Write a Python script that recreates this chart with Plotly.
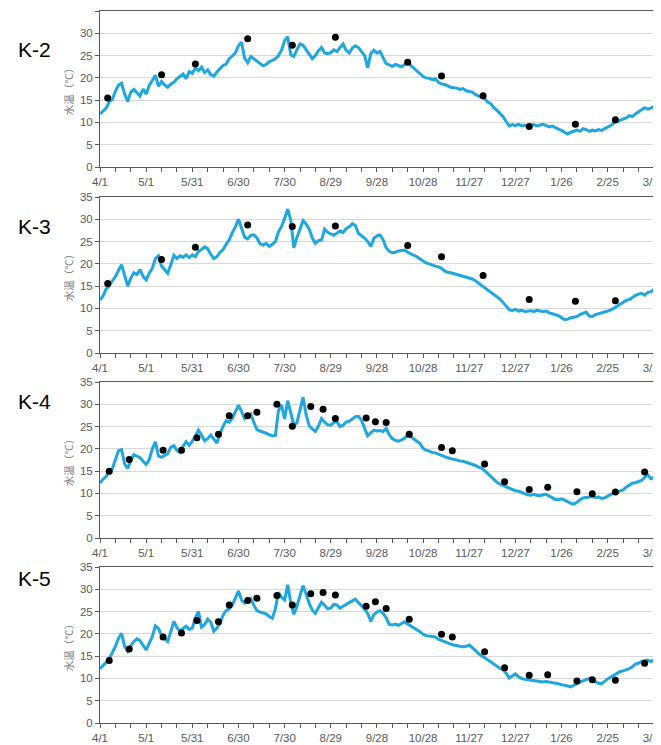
import plotly.graph_objects as go

# ---------------- data ----------------
station_names = ["K-2", "K-3", "K-4", "K-5"]
tick_days = [0, 30, 60, 90, 120, 150, 180, 210, 240, 270, 300, 330, 360]
tick_labels = ["4/1", "5/1", "5/31", "6/30", "7/30", "8/29", "9/28",
               "10/28", "11/27", "12/27", "1/26", "2/25", "3/27"]
line_step_days = 2  # continuous record, read every 2 days from 4/1

k2_line = [
    11.9, 12.6, 13.2, 14.6, 15.2, 17.0, 18.4, 18.8, 16.4, 14.7,
    16.8, 17.4, 16.6, 15.9, 17.5, 16.4, 18.3, 19.4, 20.6, 18.1,
    19.2, 18.4, 17.9, 18.6, 19.0, 19.8, 20.4, 20.9, 19.8, 21.4,
    21.0, 22.2, 21.6, 22.4, 21.2, 21.8, 20.7, 20.4, 21.3, 22.1,
    22.8, 23.1, 24.3, 24.9, 25.6, 27.2, 28.0, 24.4, 23.4, 24.8,
    24.3, 23.6, 23.1, 22.7, 23.0, 23.6, 23.9, 24.3, 25.0, 26.2,
    28.4, 29.2, 25.2, 24.8, 26.3, 27.6, 27.3, 26.2, 25.4, 24.3,
    25.0, 26.1, 26.8, 25.6, 25.4, 25.7, 26.3, 25.9, 26.8, 27.6,
    26.2, 25.6, 26.7, 27.2, 26.8, 25.9, 25.0, 22.3, 25.4, 26.2,
    25.6, 25.9, 24.6, 23.2, 22.9, 22.6, 23.0, 22.7, 22.5, 23.0,
    23.4, 22.8, 22.2, 21.6, 20.9, 20.3, 20.0, 19.9, 19.6, 19.8,
    19.0, 18.6, 18.5, 18.2, 17.9, 17.8, 17.7, 17.4, 17.6, 17.1,
    16.9, 16.8, 16.3, 15.9, 15.6, 15.3, 14.6, 14.2, 13.3, 12.7,
    12.1, 11.3, 10.2, 9.2, 9.5, 9.3, 9.6, 9.2, 9.4, 9.1,
    9.3, 9.5, 9.2, 9.4, 9.6, 9.3, 9.0, 9.2, 8.8, 8.5,
    8.2, 7.8, 7.4, 7.8, 8.1, 8.3, 8.0, 8.6, 8.4, 8.0,
    8.3, 8.1, 8.4, 8.2, 8.6, 8.9, 9.3, 9.9, 10.2, 10.5,
    10.8, 11.0, 11.5, 11.3, 11.9, 12.4, 12.8, 13.3, 13.0, 13.2,
    13.6, 14.1, 14.5,
]
k3_line = [
    11.9, 12.8, 14.4, 15.0, 16.2, 17.1, 18.5, 19.8, 17.4, 15.0,
    16.8, 18.0, 17.6, 18.7, 17.2, 16.4, 17.9, 19.0, 21.2, 21.8,
    19.5, 18.6, 17.9, 19.8, 21.9, 21.2, 21.8, 21.5, 22.0, 21.4,
    22.0, 21.6, 22.8, 23.2, 23.8, 23.4, 22.1, 21.2, 21.6, 22.6,
    23.2, 24.4, 25.4, 27.0, 28.3, 30.0, 28.1, 26.0, 25.6, 26.4,
    26.5, 25.8, 24.5, 24.2, 24.6, 23.9, 24.4, 25.0, 27.2, 28.4,
    30.2, 32.3, 29.8, 23.6, 25.9, 27.8, 29.7, 28.9, 27.8, 25.8,
    24.6, 25.2, 25.4, 27.8, 27.1, 26.7, 26.4, 26.9, 27.4, 27.0,
    27.9, 28.3, 29.0, 28.6, 26.8, 26.3, 25.8, 25.0, 23.9, 25.7,
    26.3, 26.5, 25.4, 23.6, 22.8, 22.5, 22.6, 22.9, 23.0, 23.1,
    22.6, 22.3, 22.0, 21.6, 21.1, 20.7, 20.2, 20.0, 19.7, 19.5,
    19.3, 19.0, 18.4, 18.1, 18.0, 17.8, 17.7, 17.5, 17.3, 17.0,
    16.9, 16.6, 16.2, 15.7, 15.3, 14.8, 14.3, 13.7, 13.3, 12.7,
    12.1, 11.3, 10.4, 9.7, 9.5, 9.8, 9.4, 9.6, 9.3, 9.4,
    9.5, 9.3, 9.6, 9.4, 9.3, 9.4, 9.0, 8.8, 8.6, 8.4,
    7.9, 7.5, 7.6, 7.9, 8.0, 8.2, 8.6, 8.9, 9.2, 8.3,
    8.2, 8.6, 8.8, 8.9, 9.1, 9.4, 9.7, 10.0, 10.5, 10.9,
    11.4, 11.8, 12.0, 12.5, 12.9, 13.2, 13.4, 13.0, 13.6, 13.7,
    14.2, 14.9, 14.6,
]
k4_line = [
    12.3, 13.2, 13.8, 14.9, 15.5, 17.6, 19.6, 19.8, 16.6, 15.6,
    17.4, 18.7, 18.3, 18.0, 17.2, 16.5, 17.6, 20.0, 21.6, 18.4,
    18.1, 18.5, 18.9, 20.4, 20.7, 19.6, 19.2, 20.6, 21.6, 20.8,
    21.7, 22.9, 24.2, 23.1, 21.8, 22.3, 23.1, 22.2, 21.3, 23.4,
    25.1, 26.3, 26.0, 26.9, 28.2, 29.8, 28.4, 26.8, 27.5, 27.8,
    25.9, 24.3, 24.0, 23.8, 23.5, 23.2, 22.9, 23.0, 28.6, 29.8,
    26.7, 30.8, 28.3, 25.3, 25.9, 28.7, 31.6, 27.6, 25.2, 24.5,
    23.9, 25.1, 26.8, 26.0, 25.4, 25.3, 25.9, 26.1, 25.0, 25.3,
    26.0, 26.2, 26.8, 27.2, 27.3, 26.4, 24.6, 22.9, 23.6, 24.2,
    24.0, 24.1, 23.9, 24.6, 23.2, 22.3, 21.9, 21.7, 22.0, 22.4,
    23.0, 22.8, 22.2, 21.7, 21.2, 20.1, 19.7, 19.5, 19.2, 19.1,
    18.8, 18.5, 18.3, 18.0, 17.8, 17.6, 17.5, 17.3, 17.2, 17.0,
    16.8, 16.5, 16.3, 15.9, 15.7, 15.1, 14.4, 13.9, 13.2, 12.5,
    12.1, 11.8, 11.4, 11.2, 10.9, 10.6, 10.5, 10.2, 9.9, 9.7,
    9.6, 9.8, 9.6, 9.5, 9.7, 9.8, 9.4, 9.0, 8.7, 8.6,
    8.8, 8.5, 8.1, 7.8, 7.6, 8.0, 8.6, 9.0, 9.1, 9.2,
    9.3, 9.1, 9.2, 8.9, 9.0, 9.4, 9.8, 10.1, 10.3, 10.6,
    10.8, 11.4, 11.9, 12.3, 12.4, 12.6, 12.9, 13.6, 14.2, 13.3,
    13.6, 14.4, 14.7,
]
k5_line = [
    12.2, 12.8, 13.6, 14.4, 15.8, 17.2, 19.0, 20.1, 17.2, 16.1,
    17.3, 18.3, 18.9, 18.5, 17.4, 16.4, 17.9, 19.4, 21.8, 21.2,
    19.6, 18.9, 18.3, 20.5, 22.8, 21.4, 20.6, 21.2, 21.7, 21.0,
    21.3, 23.6, 25.0, 21.5, 22.1, 23.3, 22.6, 20.6, 21.3, 22.4,
    24.2, 25.2, 25.6, 26.5, 28.0, 29.6, 27.6, 26.9, 27.4, 27.9,
    26.4, 25.2, 24.9, 24.7, 24.5, 23.9, 23.5, 25.6, 29.3, 28.2,
    27.6, 31.0, 27.0, 24.4, 26.2, 28.6, 30.8, 28.9, 26.8, 25.3,
    24.6, 25.9, 27.1, 26.4, 25.6, 25.8, 26.6, 26.5, 25.8, 26.2,
    26.7, 27.0, 27.4, 27.8, 27.0, 26.4, 25.6, 24.6, 22.8, 24.3,
    24.9, 25.2, 24.6, 23.6, 22.1, 22.0, 22.2, 21.9, 22.4, 22.7,
    22.2, 21.7, 21.4, 20.9, 20.5, 19.9, 19.6, 19.5, 19.3, 19.3,
    18.8, 18.5, 18.2, 17.9, 17.7, 17.5, 17.3, 17.2, 17.1, 17.2,
    17.5, 17.0, 16.3, 15.6, 15.1, 14.7, 14.1, 13.7, 13.2, 12.7,
    12.3, 11.9, 11.2, 10.1, 10.6, 11.0, 10.4, 10.0, 9.8, 9.7,
    9.6, 9.5, 9.4, 9.3, 9.2, 9.3, 9.2, 9.1, 9.0, 8.8,
    8.6, 8.5, 8.3, 8.1, 8.4, 8.8, 9.2, 9.5, 9.8, 10.0,
    9.6, 9.2, 8.9, 8.8, 9.4, 9.9, 10.3, 10.7, 11.1, 11.5,
    11.7, 11.9, 12.2, 12.6, 13.2, 13.4, 13.8, 14.0, 14.1, 13.8,
    14.2, 14.5, 14.8,
]

# spot observations (day from 4/1, value)
k23_obs_days = [5, 40, 62, 96, 125, 153, 200, 222, 249, 279, 309, 335]
k2_obs = [15.5, 20.7, 23.1, 28.8, 27.3, 29.1, 23.5, 20.4, 16.0, 9.1, 9.6, 10.6]
k3_obs = [15.6, 21.0, 23.7, 28.7, 28.4, 28.5, 24.1, 21.6, 17.4, 12.0, 11.6, 11.7]
k45_obs_days = [6, 19, 41, 53, 63, 77, 84, 96, 102, 115, 125, 137, 145, 153,
                173, 179, 186, 201, 222, 229, 250, 263, 279, 291, 310, 320, 335, 354]
k4_obs = [15.0, 17.6, 19.7, 19.7, 22.5, 23.3, 27.4, 27.4, 28.2, 30.0, 25.1, 29.5,
          28.9, 26.8, 26.9, 26.1, 25.9, 23.3, 20.3, 19.6, 16.6, 12.6, 10.9, 11.4,
          10.4, 9.9, 10.3, 14.8]
k5_obs = [14.0, 16.6, 19.3, 20.2, 23.0, 22.7, 26.5, 27.5, 28.0, 28.6, 26.5, 29.0,
          29.3, 28.7, 26.2, 27.2, 25.7, 23.3, 19.9, 19.3, 16.0, 12.4, 10.7, 10.8,
          9.4, 9.7, 9.6, 13.4]

y_ticks = [0, 5, 10, 15, 20, 25, 30, 35]
y_title = "水温（℃）"

# ---------------- figure ----------------
# the page body has an 8px margin, so the figure is laid out 8px up/left
OFF = 8
W, H = 661 - OFF, 745 - OFF
panels = [
    (k2_line, k23_obs_days, k2_obs),
    (k3_line, k23_obs_days, k3_obs),
    (k4_line, k45_obs_days, k4_obs),
    (k5_line, k45_obs_days, k5_obs),
]
tops = [11, 197, 382, 567]          # screen px of the 35 gridline
plot_h = 156
label_centers = [50, 226, 401, 578]  # screen px of station labels
x_left, x_right = 100, 660

LINE_COLOR = "#1EA7E0"
AX_COLOR = "#595959"
TXT_COLOR = "#595959"
GRID = "#D9D9D9"
FONT = "Liberation Sans"

fig = go.Figure()
for i, (line_vals, od, ov) in enumerate(panels):
    n = i + 1
    xa = "x" if n == 1 else f"x{n}"
    ya = "y" if n == 1 else f"y{n}"
    xs = [k * line_step_days for k in range(len(line_vals))]
    fig.add_trace(go.Scatter(x=xs, y=line_vals, mode="lines",
                             line=dict(color=LINE_COLOR, width=3),
                             xaxis=xa, yaxis=ya, showlegend=False,
                             hoverinfo="skip"))
    fig.add_trace(go.Scatter(x=od, y=ov, mode="markers",
                             marker=dict(color="black", size=7),
                             xaxis=xa, yaxis=ya, showlegend=False))
    top = tops[i] - OFF
    bot = top + plot_h
    dom = [1 - bot / H, 1 - top / H]
    xkey = "xaxis" if n == 1 else f"xaxis{n}"
    ykey = "yaxis" if n == 1 else f"yaxis{n}"
    fig.update_layout(**{
        xkey: dict(domain=[(x_left - OFF) / W, (x_right - OFF) / W],
                   anchor=ya, range=[0, 364],
                   automargin=False, ticklabeloverflow="allow",
                   tickmode="array", tickvals=tick_days, ticktext=tick_labels,
                   ticks="outside", ticklen=4, tickcolor=AX_COLOR,
                   minor=dict(dtick=10, tick0=0, ticks="outside", ticklen=4,
                              tickcolor=AX_COLOR, showgrid=False),
                   showline=True, linecolor=AX_COLOR, linewidth=1, mirror=True,
                   showgrid=False, zeroline=False,
                   tickfont=dict(family=FONT, size=11.5, color=TXT_COLOR)),
        ykey: dict(domain=dom, anchor=xa, range=[0, 35], automargin=False,
                   tickmode="array", tickvals=y_ticks,
                   ticks="outside", ticklen=4, tickcolor=AX_COLOR,
                   showline=True, linecolor=AX_COLOR, linewidth=1, mirror=True,
                   showgrid=True, gridcolor=GRID, gridwidth=1, zeroline=False,
                   tickfont=dict(family=FONT, size=11.5, color=TXT_COLOR),
                   title=dict(text=y_title, standoff=4,
                              font=dict(family="Noto Sans CJK JP", size=10.5,
                                        color="#7F7F7F"))),
    })
    fig.add_annotation(x=(34 - OFF) / W, y=1 - (label_centers[i] - OFF) / H,
                       xref="paper", yref="paper", text=station_names[i],
                       showarrow=False, xanchor="center", yanchor="middle",
                       font=dict(family=FONT, size=21, color="black"))

fig.update_layout(width=W, height=H, margin=dict(l=0, r=0, t=0, b=0),
                  paper_bgcolor="white", plot_bgcolor="white")
fig.write_html("out.html")
